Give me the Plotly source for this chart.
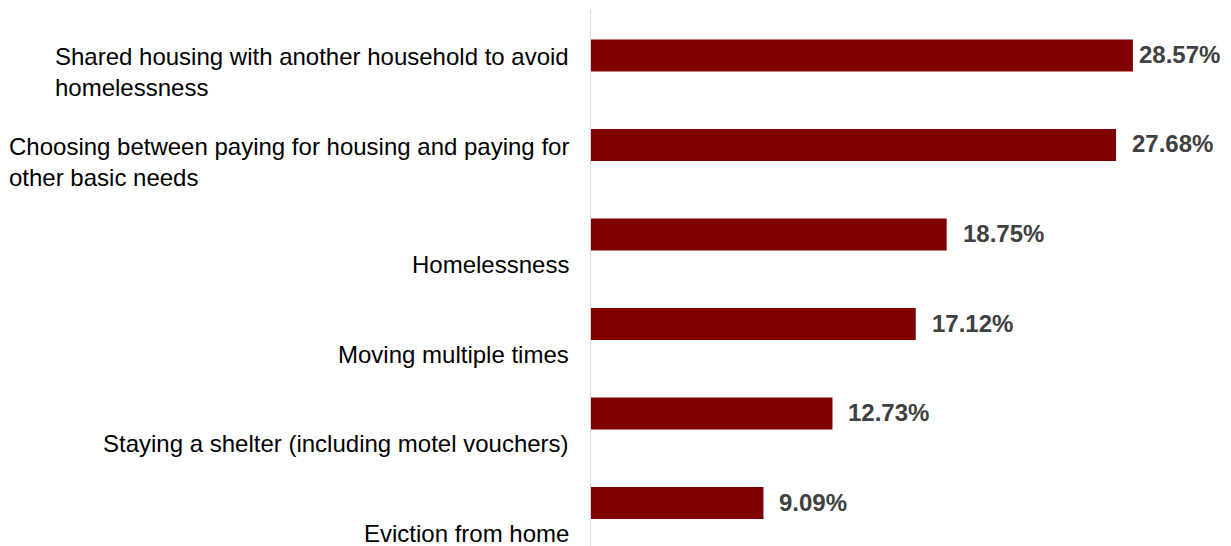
import plotly.graph_objects as go

categories = [
    "Shared housing with another household to avoid<br>homelessness",
    "Choosing between paying for housing and paying for<br>other basic needs",
    "Homelessness",
    "Moving multiple times",
    "Staying a shelter (including motel vouchers)",
    "Eviction from home",
]
values = [28.57, 27.68, 18.75, 17.12, 12.73, 9.09]

BAR_COLOR = "#800000"
FONT = "Liberation Sans, Arial, sans-serif"
X_MAX = 33.74
PX_PER_UNIT = 640 / X_MAX

fig = go.Figure()
fig.add_trace(go.Bar(
    y=categories,
    x=values,
    orientation="h",
    marker=dict(color=BAR_COLOR, line=dict(width=0)),
    width=0.3575,
    offset=-0.369,
    hoverinfo="skip",
))

annotations = []
for c, v in zip(categories, values):
    two_line = "<br>" in c
    annotations.append(dict(
        xref="paper", yref="y", x=0, y=c,
        xanchor="right", yanchor="middle", align="left",
        xshift=-20, yshift=0 if two_line else -13,
        text=c, showarrow=False,
        font=dict(family=FONT, size=24, color="#000000"),
    ))
    # keep the value label inside the chart, like the original
    shift = min(14, (X_MAX - v) * PX_PER_UNIT - 94)
    annotations.append(dict(
        xref="x", yref="y", x=v, y=c,
        xanchor="left", yanchor="middle",
        xshift=shift, yshift=18,
        text=f"<b>{v:.2f}%</b>", showarrow=False,
        font=dict(family=FONT, size=24, color="#404040"),
    ))

fig.update_layout(
    width=1231, height=546,
    margin=dict(l=583, r=8, t=2, b=8),
    paper_bgcolor="white", plot_bgcolor="white",
    showlegend=False,
    annotations=annotations,
    xaxis=dict(range=[0, X_MAX], visible=False, showgrid=False, zeroline=False),
    yaxis=dict(
        type="category",
        categoryorder="array", categoryarray=categories,
        range=[5.29, -0.698],
        showticklabels=False, showgrid=False, zeroline=False,
        showline=True, linecolor="#D9D9D9", linewidth=1, ticks="",
    ),
)

fig.write_html("out.html")
